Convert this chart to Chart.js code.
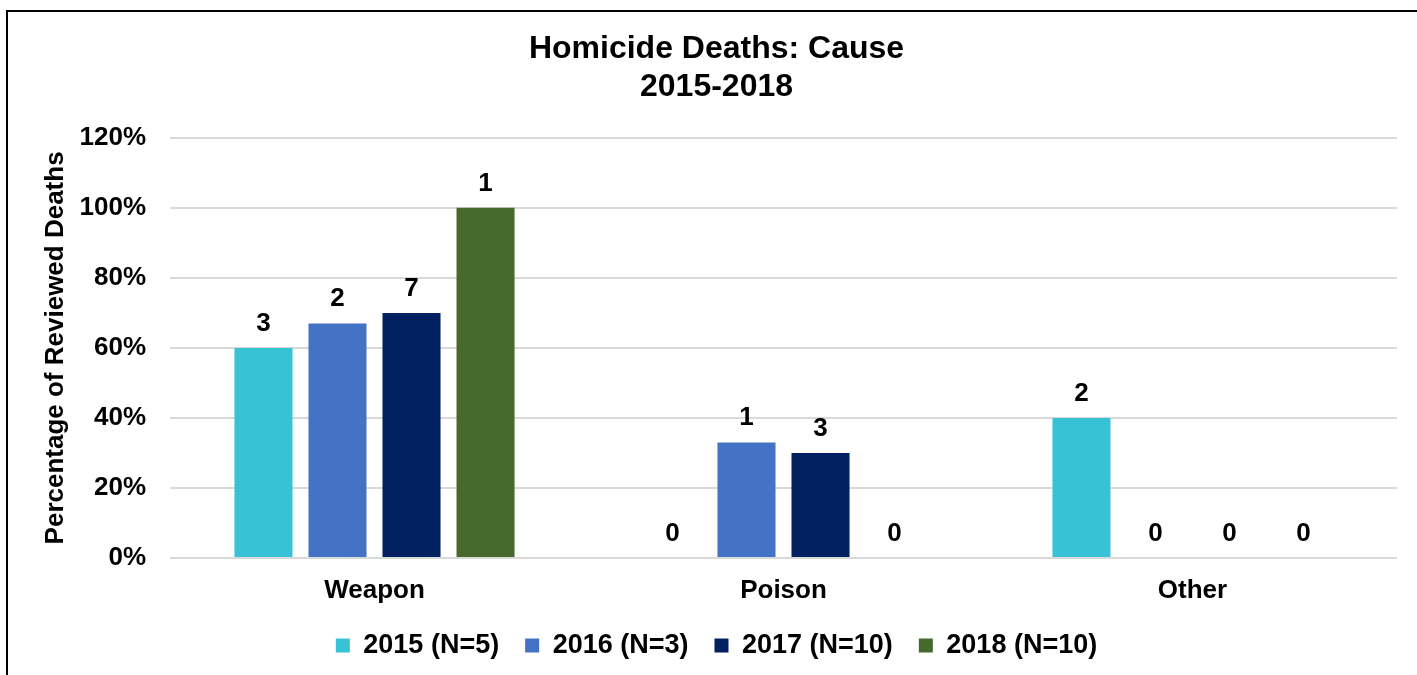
<!DOCTYPE html>
<html>
<head>
<meta charset="utf-8">
<script src="https://cdn.jsdelivr.net/npm/chart.js@4.4.0/dist/chart.umd.min.js"></script>
<style>
  html, body { margin: 0; padding: 0; background: #fff; overflow: hidden; }
  #frame { position: absolute; left: 6px; top: 10px; width: 2000px; height: 2000px;
           border-left: 2px solid #000; border-top: 2px solid #000; box-sizing: border-box; }
  #homicide { position: absolute; left: 0; top: 0; }
</style>
</head>
<body>
<div id="frame"></div>
<canvas id="homicide" width="1417" height="675"></canvas>
<script>
// values
var causes = ['Weapon', 'Poison', 'Other'];
var seriesNames = ['2015 (N=5)', '2016 (N=3)', '2017 (N=10)', '2018 (N=10)'];
var seriesColors = ['#37C3D5', '#4472C4', '#002060', '#466A2B'];

// percentage of reviewed deaths
var pct2015 = [60, 0, 40];
var pct2016 = [67, 33, 0];
var pct2017 = [70, 30, 0];
var pct2018 = [100, 0, 0];

// counts shown above each bar
var n2015 = [3, 0, 2];
var n2016 = [2, 1, 0];
var n2017 = [7, 3, 0];
var n2018 = [1, 0, 0];

var yTicks = [0, 20, 40, 60, 80, 100, 120];

var pcts = [pct2015, pct2016, pct2017, pct2018];
var counts = [n2015, n2016, n2017, n2018];
var fontFamily = "'Liberation Sans', Arial, sans-serif";

Chart.defaults.color = '#000';
Chart.defaults.font.family = fontFamily;

// draws the count above every bar
var countLabels = {
  id: 'countLabels',
  afterDatasetsDraw: function(chart) {
    var ctx = chart.ctx;
    ctx.save();
    ctx.font = 'bold 26px ' + fontFamily;
    ctx.fillStyle = '#000';
    ctx.textAlign = 'center';
    ctx.textBaseline = 'alphabetic';
    chart.data.datasets.forEach(function(ds, i) {
      chart.getDatasetMeta(i).data.forEach(function(bar, j) {
        ctx.fillText(String(counts[i][j]), bar.x, bar.y - 17);
      });
    });
    ctx.restore();
  }
};

var chart = new Chart('homicide', {
  type: 'bar',
  data: {
    labels: causes,
    datasets: seriesNames.map(function(name, i) {
      return {
        label: name,
        data: pcts[i],
        backgroundColor: seriesColors[i],
        borderWidth: 0,
        categoryPercentage: 0.724,
        barPercentage: 0.784
      };
    })
  },
  options: {
    responsive: false,
    animation: false,
    layout: { padding: { left: 36, right: 20, top: 20, bottom: 6 } },
    plugins: {
      title: {
        display: true,
        text: ['Homicide Deaths: Cause', '2015-2018'],
        font: { size: 32, weight: 'bold', lineHeight: 1.2 },
        padding: { top: 10, bottom: 31 }
      },
      legend: {
        position: 'bottom',
        labels: {
          boxWidth: 14,
          boxHeight: 14,
          padding: 26,
          font: { size: 27, weight: 'bold' }
        }
      },
      tooltip: { enabled: false }
    },
    scales: {
      x: {
        afterFit: function(scale) { scale.height = 48; },
        grid: { display: false, drawTicks: false },
        border: { display: false },
        ticks: { padding: 17, font: { size: 26, weight: 'bold' } }
      },
      y: {
        min: 0,
        max: 120,
        afterBuildTicks: function(scale) {
          scale.ticks = yTicks.map(function(v) { return { value: v }; });
        },
        afterFit: function(scale) { scale.width = 134; },
        grid: { color: '#d9d9d9', lineWidth: 2, drawTicks: false },
        border: { display: false },
        ticks: {
          padding: 24,
          font: { size: 26, weight: 'bold' },
          callback: function(v) { return v + '%'; }
        },
        title: {
          display: true,
          text: 'Percentage of Reviewed Deaths',
          font: { size: 26, weight: 'bold', lineHeight: 1.2 },
          padding: { top: 4, bottom: 4 }
        }
      }
    }
  },
  plugins: [countLabels]
});
</script>
</body>
</html>
